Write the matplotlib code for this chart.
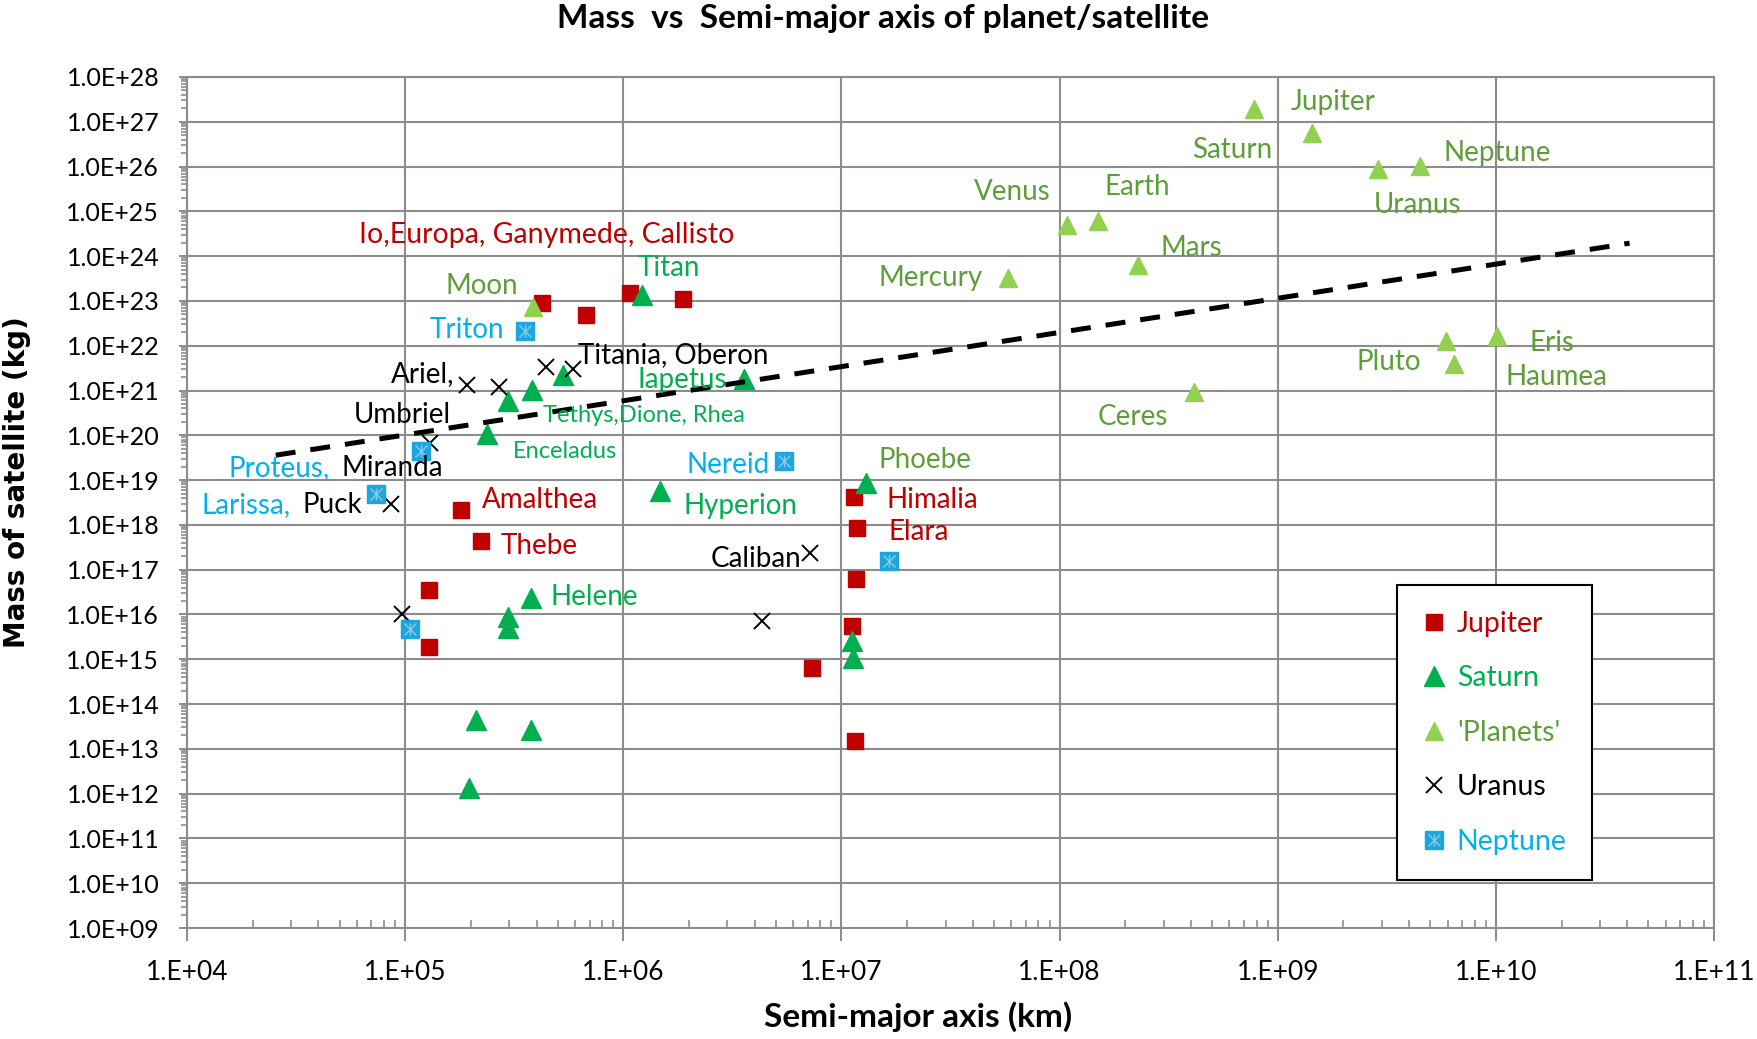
"""Mass vs semi-major axis of planets and satellites (log-log scatter)."""

import numpy as np
import matplotlib.pyplot as plt
from matplotlib.ticker import LogLocator, FuncFormatter, NullFormatter
from matplotlib.legend_handler import HandlerTuple

plt.rcParams['font.family'] = ['Lato', 'DejaVu Sans']

RED = '#C00000'
GREEN = '#00B050'
PLANET_FILL = '#92D050'
PLANET_TEXT = '#5E9E3A'
BLUE = '#00B0F0'
BLUE_MARK = '#1CA6E0'
GRID = '#8C8C8C'

# semi-major axis (km), mass (kg)
jupiter_a = [4.22e5, 6.71e5, 1.07e6, 1.88e6, 1.81e5, 2.22e5, 1.28e5, 1.29e5,
             1.146e7, 1.174e7, 1.17e7, 1.117e7, 7.35e6, 1.15e7]
jupiter_m = [8.9e22, 4.8e22, 1.48e23, 1.08e23, 2.1e18, 4.3e17, 3.6e16, 1.9e15,
             4.2e18, 8.7e17, 6.3e16, 5.6e15, 6.5e14, 1.5e13]

saturn_a = [1.222e6, 3.56e6, 5.3e5, 3.8e5, 2.96e5, 2.38e5, 1.48e6, 1.295e7,
            3.78e5, 2.95e5, 2.95e5, 2.12e5, 3.78e5, 1.96e5, 1.12e7, 1.13e7]
saturn_m = [1.35e23, 1.8e21, 2.2e21, 1.05e21, 5.8e20, 1.05e20, 5.6e18, 8.5e18,
            2.3e16, 8.7e15, 5.0e15, 4.4e13, 2.6e13, 1.35e12, 2.5e15, 1.05e15]

planet_a = [3.844e5, 5.79e7, 1.082e8, 1.496e8, 2.279e8, 4.14e8, 7.785e8,
            1.434e9, 2.871e9, 4.495e9, 5.9e9, 6.45e9, 1.01e10]
planet_m = [7.35e22, 3.3e23, 4.87e24, 5.97e24, 6.42e23, 9.4e20, 1.9e27,
            5.68e26, 8.68e25, 1.02e26, 1.3e22, 4.0e21, 1.66e22]

uranus_a = [1.93e5, 2.68e5, 4.4e5, 5.86e5, 1.3e5, 8.6e4, 9.7e4, 7.2e6, 4.3e6]
uranus_m = [1.32e21, 1.2e21, 3.4e21, 2.95e21, 6.7e19, 2.9e18, 1.0e16, 2.4e17, 7.0e15]

neptune_a = [3.55e5, 1.177e5, 7.35e4, 5.45e6, 1.05e5, 1.65e7]
neptune_m = [2.14e22, 4.4e19, 4.9e18, 2.7e19, 4.7e15, 1.6e17]

trend_a = [2.55e4, 4.1e10]
trend_m = [3.6e19, 1.95e24]

series_names = ['Jupiter', 'Saturn', "'Planets'", 'Uranus', 'Neptune']

# name labels: text, log10 x, log10 y, colour, alignment, size
labels = [
    ('Io,Europa, Ganymede, Callisto', 4.789, 24.47, RED, 'left', 20.5),
    ('Titan', 6.065, 23.74, GREEN, 'left', 20),
    ('Moon', 5.519, 23.33, PLANET_TEXT, 'right', 20),
    ('Triton', 5.452, 22.35, BLUE, 'right', 20),
    ('Titania, Oberon', 5.790, 21.79, 'black', 'left', 20),
    ('Ariel,', 5.225, 21.37, 'black', 'right', 20),
    ('Iapetus', 6.065, 21.24, GREEN, 'left', 20),
    ('Umbriel', 4.762, 20.45, 'black', 'left', 20),
    ('Tethys,Dione, Rhea', 5.631, 20.45, GREEN, 'left', 17),
    ('Enceladus', 5.494, 19.63, GREEN, 'left', 17),
    ('Proteus,', 4.190, 19.27, BLUE, 'left', 20),
    ('Miranda', 4.710, 19.27, 'black', 'left', 20),
    ('Larissa,', 4.064, 18.44, BLUE, 'left', 20),
    ('Puck', 4.530, 18.44, 'black', 'left', 20),
    ('Nereid', 6.671, 19.34, BLUE, 'right', 20),
    ('Amalthea', 5.354, 18.56, RED, 'left', 20),
    ('Thebe', 5.439, 17.53, RED, 'left', 20),
    ('Hyperion', 6.276, 18.42, GREEN, 'left', 20),
    ('Helene', 5.666, 16.40, GREEN, 'left', 20),
    ('Caliban', 6.817, 17.24, 'black', 'right', 20),
    ('Himalia', 7.207, 18.56, RED, 'left', 20),
    ('Elara', 7.215, 17.84, RED, 'left', 20),
    ('Phoebe', 7.170, 19.45, PLANET_TEXT, 'left', 20),
    ('Mercury', 7.170, 23.51, PLANET_TEXT, 'left', 20),
    ('Venus', 7.960, 25.43, PLANET_TEXT, 'right', 20),
    ('Earth', 8.204, 25.54, PLANET_TEXT, 'left', 20),
    ('Mars', 8.464, 24.18, PLANET_TEXT, 'left', 20),
    ('Jupiter', 9.057, 27.44, PLANET_TEXT, 'left', 20),
    ('Saturn', 8.977, 26.37, PLANET_TEXT, 'right', 20),
    ('Neptune', 9.759, 26.30, PLANET_TEXT, 'left', 20),
    ('Uranus', 9.442, 25.14, PLANET_TEXT, 'left', 20),
    ('Ceres', 8.172, 20.41, PLANET_TEXT, 'left', 20),
    ('Pluto', 9.363, 21.64, PLANET_TEXT, 'left', 20),
    ('Eris', 10.152, 22.06, PLANET_TEXT, 'left', 20),
    ('Haumea', 10.044, 21.30, PLANET_TEXT, 'left', 20),
]

fig = plt.figure(figsize=(17.58, 10.39), dpi=100)
ax = fig.add_axes([0.1064, 0.1068, 0.8686, 0.8191])
ax.set_xscale('log')
ax.set_yscale('log')
ax.set_xlim(1e4, 1e11)
ax.set_ylim(1e9, 1e28)

h_jup, = ax.plot(jupiter_a, jupiter_m, 's', ms=12, color=RED, zorder=3)
h_sat, = ax.plot(saturn_a, saturn_m, '^', ms=15, color=GREEN, zorder=3)
h_pla, = ax.plot(planet_a, planet_m, '^', ms=12.5, color=PLANET_FILL, zorder=3)
h_ura, = ax.plot(uranus_a, uranus_m, 'x', ms=12, mew=1.4, color='black', zorder=3)
h_nep, = ax.plot(neptune_a, neptune_m, 's', ms=12.5, color=BLUE_MARK, zorder=3)
h_nx, = ax.plot(neptune_a, neptune_m, 'x', ms=8, mew=1, color='#8CCBE6', zorder=3)
h_nv, = ax.plot(neptune_a, neptune_m, '|', ms=9, mew=1, color='#8CCBE6', zorder=3)

ax.plot(trend_a, trend_m, color='black', lw=3.6, linestyle=(0, (4, 3)), zorder=4)

for text, lx, ly, col, ha, size in labels:
    ax.text(10 ** lx, 10 ** ly, text, color=col, ha=ha, va='center',
            fontsize=size, zorder=5)

# axes, ticks, grid
ax.xaxis.set_major_locator(LogLocator(base=10, numticks=20))
ax.yaxis.set_major_locator(LogLocator(base=10, numticks=40))
ax.xaxis.set_minor_locator(LogLocator(base=10, subs=np.arange(2, 10), numticks=20))
ax.yaxis.set_minor_locator(LogLocator(base=10, subs=np.arange(2, 10), numticks=40))
ax.xaxis.set_minor_formatter(NullFormatter())
ax.yaxis.set_minor_formatter(NullFormatter())
ax.xaxis.set_major_formatter(FuncFormatter(lambda v, _: f"1.E+{int(round(np.log10(v))):02d}"))
ax.yaxis.set_major_formatter(FuncFormatter(lambda v, _: f"1.0E+{int(round(np.log10(v))):02d}"))

ax.tick_params(axis='x', which='major', direction='out', length=9, width=1.4,
               color=GRID, labelsize=19, pad=14)
ax.tick_params(axis='x', which='minor', direction='in', length=6, width=1.2, color=GRID)
ax.tick_params(axis='y', which='major', direction='out', length=6, width=1.4,
               color=GRID, labelsize=18, pad=14)
ax.tick_params(axis='y', which='minor', direction='out', length=4, width=1.2, color=GRID)

ax.grid(which='major', color=GRID, lw=1.5)
ax.set_axisbelow(True)
for sp in ax.spines.values():
    sp.set_color(GRID)
    sp.set_linewidth(1.5)

fig.text(0.5025, 0.982, 'Mass  vs  Semi-major axis of planet/satellite',
         ha='center', va='center', fontsize=24, fontweight='bold')
fig.text(0.0098, 0.536, 'Mass of satellite (kg)', rotation=90, ha='center', va='center',
         fontsize=20, fontweight='bold', family='DejaVu Sans')
fig.text(0.522, 0.022, 'Semi-major axis (km)', ha='center', va='center',
         fontsize=24, fontweight='bold')

leg = ax.legend([h_jup, h_sat, h_pla, h_ura, (h_nep, h_nx, h_nv)], series_names,
                handler_map={tuple: HandlerTuple(ndivide=1, pad=0)},
                loc='upper left', bbox_to_anchor=(0.7924, 0.403), borderaxespad=0,
                fontsize=20.5, labelspacing=1.0, handlelength=0.8, handletextpad=0.4,
                borderpad=0.9, fancybox=False, framealpha=1, edgecolor='black')
leg.get_frame().set_linewidth(1.5)
for t, c in zip(leg.get_texts(), [RED, GREEN, PLANET_TEXT, 'black', BLUE]):
    t.set_color(c)

fig.savefig('out.png', dpi=100)
